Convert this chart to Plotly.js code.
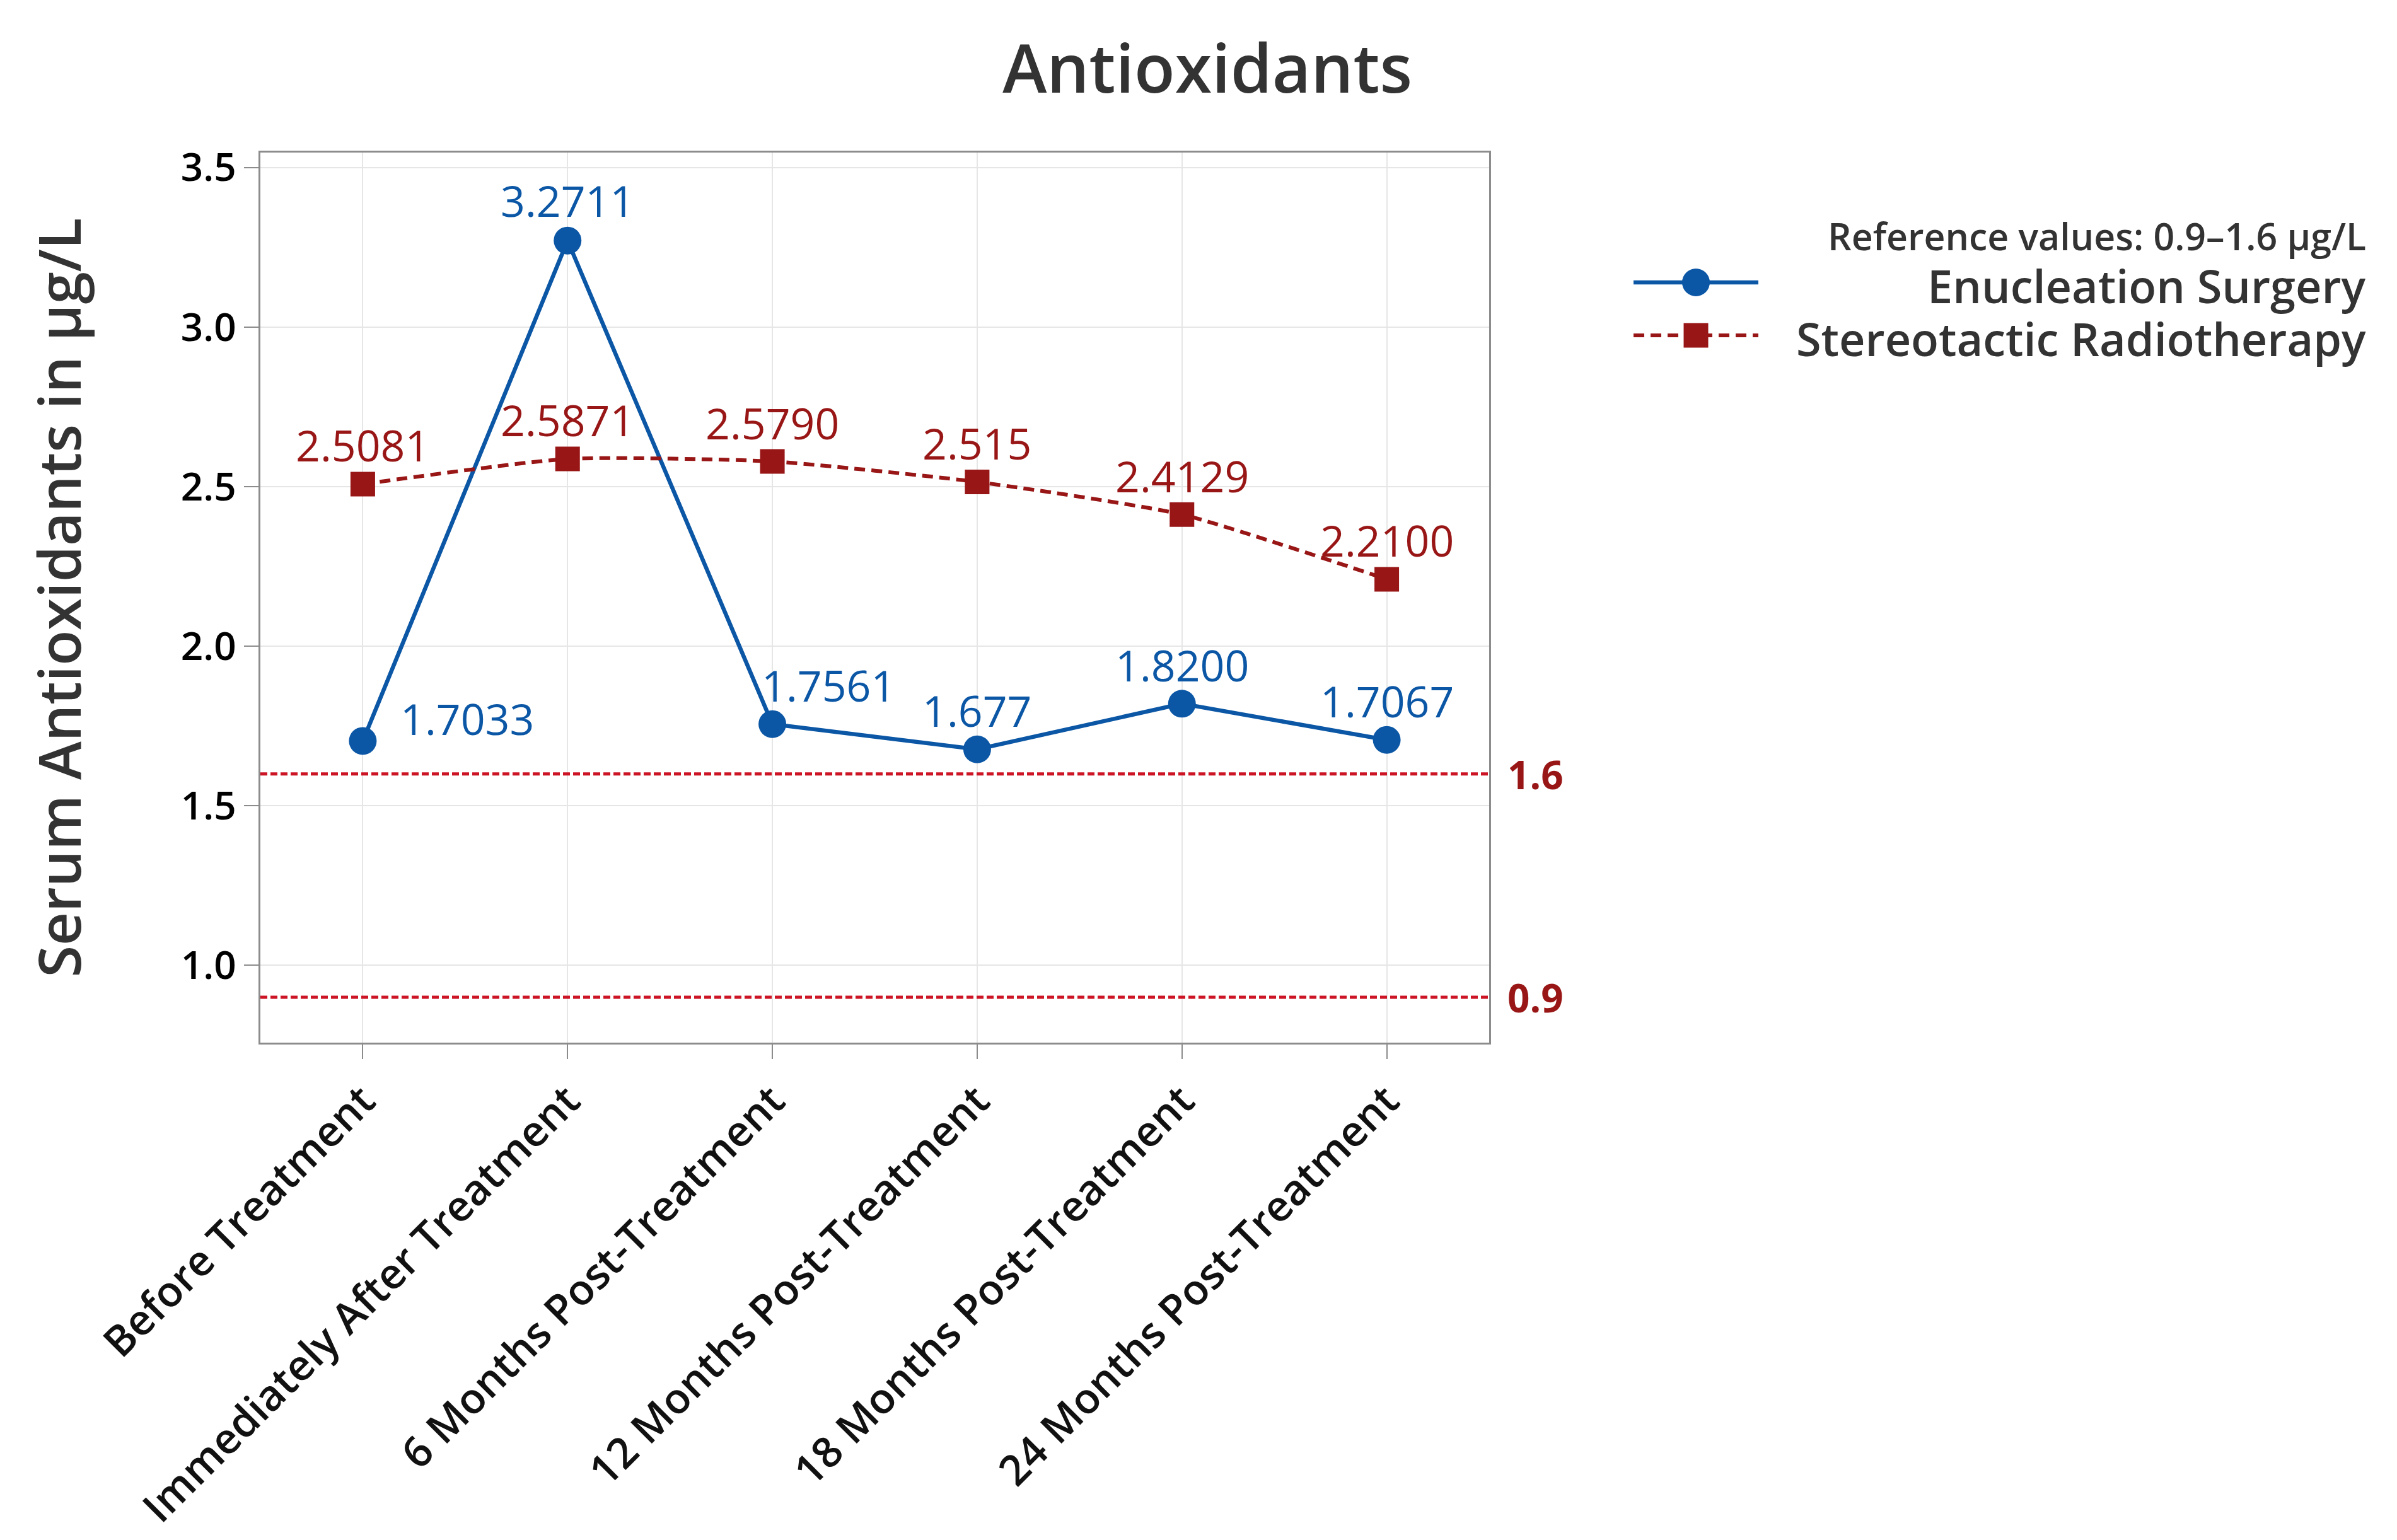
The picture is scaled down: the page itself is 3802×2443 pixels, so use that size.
<!DOCTYPE html>
<html>
<head>
<meta charset="utf-8">
<script src="https://cdn.plot.ly/plotly-3.0.1.min.js"></script>
<style>
html, body { margin: 0; padding: 0; background: #ffffff; }
#chart { width: 3802px; height: 2443px; }
</style>
</head>
<body>
<div id="chart"></div>
<script>
// ---------------- data ----------------
const categories = [
  'Before Treatment',
  'Immediately After Treatment',
  '6 Months Post-Treatment',
  '12 Months Post-Treatment',
  '18 Months Post-Treatment',
  '24 Months Post-Treatment'
];
const seriesNames = ['Enucleation Surgery', 'Stereotactic Radiotherapy'];
const enucleationValues = [1.7033, 3.2711, 1.7561, 1.677, 1.8200, 1.7067];
const enucleationLabels = ['1.7033', '3.2711', '1.7561', '1.677', '1.8200', '1.7067'];
const radiotherapyValues = [2.5081, 2.5871, 2.5790, 2.515, 2.4129, 2.2100];
const radiotherapyLabels = ['2.5081', '2.5871', '2.5790', '2.515', '2.4129', '2.2100'];
const referenceLimits = [1.6, 0.9];
const referenceLimitLabels = ['1.6', '0.9'];
const referenceNote = 'Reference values: 0.9–1.6 µg/L';
const yTickValues = [1.0, 1.5, 2.0, 2.5, 3.0, 3.5];

// ---------------- style ----------------
const FONT = 'Open Sans, Noto Sans, sans-serif';
const BLUE = '#0b57a6';
const DARKRED = '#991616';
const REFRED = '#cc1424';
const LABEL_SIZE = 68;
const BLUE_LINE = { color: BLUE, width: 6.5 };
const RED_LINE = { color: DARKRED, width: 6, dash: '17px,10px' };
const CIRCLE_SIZE = 44;
const SQUARE_SIZE = 39;

// label placement (pixel offsets from the point, style only)
const enucleationLabelStyle = {
  0: { xanchor: 'left', xshift: 58, yshift: 36 },
  1: { yshift: 64 },
  2: { xshift: 89 }
};
const defaultLabelShift = 62;

// legend placement (paper coordinates of the plot area, style only)
const legendStyle = {
  keyX: 1.1683,          // centre of the key samples
  keyHalf: 99,           // half length of key line, px
  textRight: 1.7147,     // right edge of legend texts
  titleY: 0.9065,
  rowY: [0.8541, 0.7946],   // key line rows
  rowTextY: [0.8506, 0.7911]
};

// ---------------- traces ----------------
const traces = [
  {
    type: 'scatter',
    mode: 'lines+markers',
    name: seriesNames[0],
    x: categories,
    y: enucleationValues,
    line: BLUE_LINE,
    marker: { symbol: 'circle', size: CIRCLE_SIZE, color: BLUE },
    hoverinfo: 'x+y'
  },
  {
    type: 'scatter',
    mode: 'lines+markers',
    name: seriesNames[1],
    x: categories,
    y: radiotherapyValues,
    line: Object.assign({}, RED_LINE, { shape: 'spline', smoothing: 0.55 }),
    marker: { symbol: 'square', size: SQUARE_SIZE, color: DARKRED },
    hoverinfo: 'x+y'
  }
];

// ---------------- annotations ----------------
const annotations = [];
categories.forEach(function (cat, i) {
  const st = enucleationLabelStyle[i] || {};
  annotations.push({
    x: cat, y: enucleationValues[i], xref: 'x', yref: 'y',
    text: enucleationLabels[i], showarrow: false,
    xanchor: st.xanchor || 'center', yanchor: 'middle',
    xshift: st.xshift || 0,
    yshift: (st.yshift !== undefined ? st.yshift : defaultLabelShift),
    font: { family: FONT, size: LABEL_SIZE, color: BLUE }
  });
  annotations.push({
    x: cat, y: radiotherapyValues[i], xref: 'x', yref: 'y',
    text: radiotherapyLabels[i], showarrow: false,
    xanchor: 'center', yanchor: 'middle',
    yshift: defaultLabelShift,
    font: { family: FONT, size: LABEL_SIZE, color: DARKRED }
  });
});
referenceLimits.forEach(function (v, i) {
  annotations.push({
    xref: 'paper', x: 1, yref: 'y', y: v,
    text: referenceLimitLabels[i], showarrow: false,
    xanchor: 'left', yanchor: 'middle', xshift: 27,
    font: { family: FONT, size: 62, color: DARKRED, weight: 700 }
  });
});

// legend texts (right aligned, as in the reference)
annotations.push({
  xref: 'paper', yref: 'paper', x: legendStyle.textRight, y: legendStyle.titleY,
  text: referenceNote, showarrow: false, xanchor: 'right', yanchor: 'middle',
  font: { family: FONT, size: 59, color: '#333333', weight: 600 }
});
seriesNames.forEach(function (name, i) {
  annotations.push({
    xref: 'paper', yref: 'paper', x: legendStyle.textRight, y: legendStyle.rowTextY[i],
    text: name, showarrow: false, xanchor: 'right', yanchor: 'middle',
    font: { family: FONT, size: 72, color: '#333333', weight: 600 }
  });
});

// reference lines
const shapes = referenceLimits.map(function (v) {
  return {
    type: 'line', xref: 'paper', x0: 0, x1: 1, yref: 'y', y0: v, y1: v,
    line: { color: REFRED, width: 5, dash: '11px,5px' },
    layer: 'above'
  };
});

// legend key samples
[BLUE_LINE, RED_LINE].forEach(function (ln, i) {
  shapes.push({
    type: 'line', xref: 'paper', yref: 'paper',
    xsizemode: 'pixel', xanchor: legendStyle.keyX,
    x0: -legendStyle.keyHalf, x1: legendStyle.keyHalf,
    y0: legendStyle.rowY[i], y1: legendStyle.rowY[i],
    line: ln, layer: 'above'
  });
});
shapes.push({
  type: 'circle', xref: 'paper', yref: 'paper',
  xsizemode: 'pixel', ysizemode: 'pixel',
  xanchor: legendStyle.keyX, yanchor: legendStyle.rowY[0],
  x0: -CIRCLE_SIZE / 2, x1: CIRCLE_SIZE / 2, y0: -CIRCLE_SIZE / 2, y1: CIRCLE_SIZE / 2,
  fillcolor: BLUE, line: { width: 0 }, layer: 'above'
});
shapes.push({
  type: 'rect', xref: 'paper', yref: 'paper',
  xsizemode: 'pixel', ysizemode: 'pixel',
  xanchor: legendStyle.keyX, yanchor: legendStyle.rowY[1],
  x0: -SQUARE_SIZE / 2, x1: SQUARE_SIZE / 2, y0: -SQUARE_SIZE / 2, y1: SQUARE_SIZE / 2,
  fillcolor: DARKRED, line: { width: 0 }, layer: 'above'
});

// ---------------- layout ----------------
const layout = {
  width: 3802,
  height: 2443,
  autosize: false,
  paper_bgcolor: '#ffffff',
  plot_bgcolor: '#ffffff',
  margin: { l: 413, r: 1440, t: 242, b: 789, pad: 0 },
  font: { family: FONT, color: '#333333' },
  showlegend: false,
  title: {
    text: 'Antioxidants',
    x: 0.5037, xref: 'container', xanchor: 'center',
    y: 0.955, yref: 'container', yanchor: 'middle',
    font: { family: FONT, size: 106, color: '#333333', weight: 600 }
  },
  xaxis: {
    type: 'category',
    range: [-0.5, 5.5],
    showgrid: true, gridcolor: '#e6e6e6', gridwidth: 2,
    zeroline: false,
    showline: true, linecolor: '#8c8c8c', linewidth: 3, mirror: true,
    ticks: 'outside', ticklen: 23, tickwidth: 2, tickcolor: '#8c8c8c',
    tickangle: -45,
    tickfont: { family: FONT, size: 67, color: '#111111', weight: 600 },
    automargin: false
  },
  yaxis: {
    range: [0.758, 3.547],
    tickmode: 'array',
    tickvals: yTickValues,
    ticktext: yTickValues.map(function (v) { return v.toFixed(1); }),
    showgrid: true, gridcolor: '#e6e6e6', gridwidth: 2,
    zeroline: false,
    showline: true, linecolor: '#8c8c8c', linewidth: 3, mirror: true,
    ticks: 'outside', ticklen: 23, tickwidth: 2, tickcolor: '#8c8c8c',
    tickfont: { family: FONT, size: 62, color: '#000000', weight: 600 },
    title: {
      text: 'Serum Antioxidants in µg/L',
      font: { family: FONT, size: 92, color: '#333333', weight: 600 },
      standoff: 128
    },
    automargin: false
  },
  shapes: shapes,
  annotations: annotations
};

Plotly.newPlot('chart', traces, layout, { displayModeBar: false, staticPlot: true });
</script>
</body>
</html>
